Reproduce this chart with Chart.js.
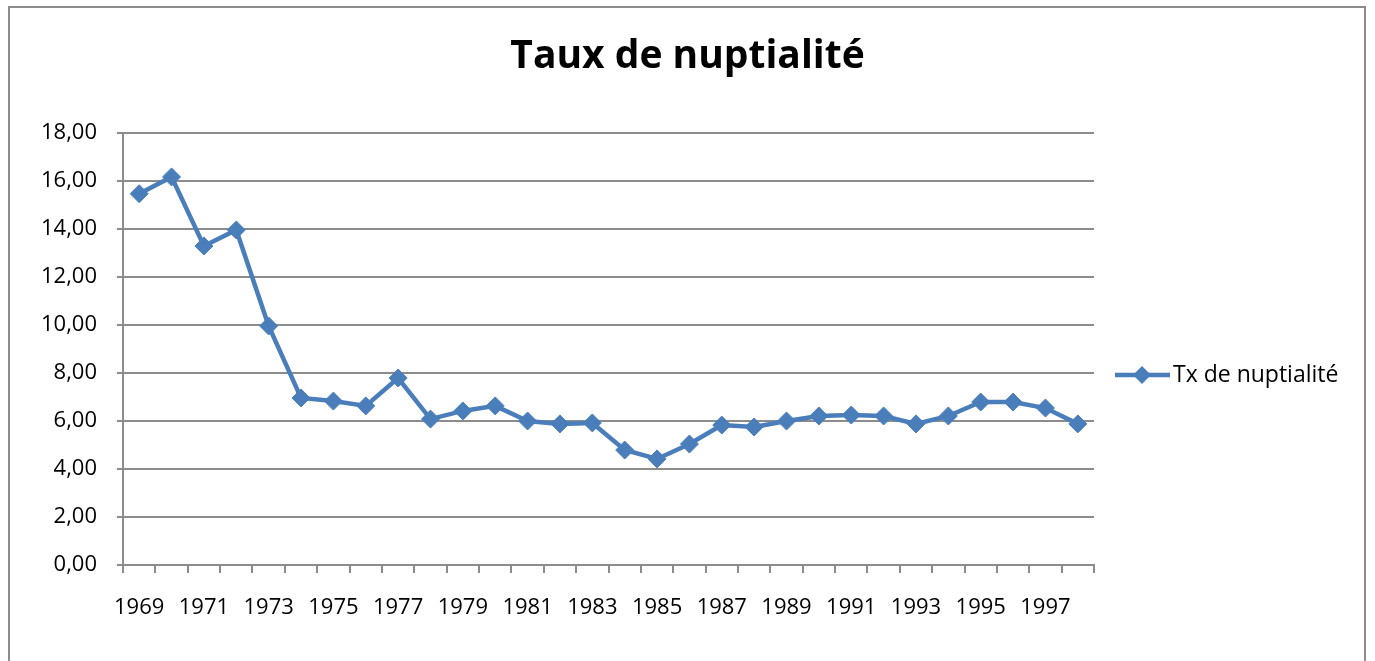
<!DOCTYPE html>
<html>
<head>
<meta charset="utf-8">
<script src="https://cdn.jsdelivr.net/npm/chart.js@4.4.0/dist/chart.umd.min.js"></script>
<style>
  html, body { margin: 0; padding: 0; background: #fff; }
  #wrap { position: relative; width: 1375px; height: 661px; overflow: hidden; }
  #frame { position: absolute; left: 8px; top: 6px; width: 1358px; height: 700px;
           border: 2px solid #8c8c8c; pointer-events: none; box-sizing: border-box; }
</style>
</head>
<body>
<div id="wrap">
  <canvas id="chart1" width="1375" height="661"></canvas>
  <div id="frame"></div>
</div>
<script>
// années
const annees = ['1969','1970','1971','1972','1973','1974','1975','1976','1977','1978',
                '1979','1980','1981','1982','1983','1984','1985','1986','1987','1988',
                '1989','1990','1991','1992','1993','1994','1995','1996','1997','1998'];
// taux de nuptialité
const txNuptialite = [15.47, 16.17, 13.29, 13.96, 9.96, 6.96, 6.83, 6.63, 7.79, 6.08,
                      6.42, 6.63, 6.00, 5.88, 5.92, 4.79, 4.42, 5.04, 5.83, 5.75,
                      6.00, 6.21, 6.25, 6.21, 5.88, 6.21, 6.79, 6.79, 6.54, 5.88];
const yTicks = [0, 2, 4, 6, 8, 10, 12, 14, 16, 18];

const bleu = '#4a7ebb';
const gris = '#8c8c8c';
const police = '"Open Sans"';

// legende dessinee a la main (trait + losange)
const legendeExcel = {
    id: 'legendeExcel',
    afterDraw(chart) {
        const ctx = chart.ctx;
        const ds = chart.data.datasets[0];
        const y = 375;
        ctx.save();
        ctx.strokeStyle = ds.borderColor;
        ctx.lineWidth = ds.borderWidth;
        ctx.beginPath();
        ctx.moveTo(1115, y);
        ctx.lineTo(1170, y);
        ctx.stroke();
        ctx.fillStyle = ds.backgroundColor;
        ctx.beginPath();
        ctx.moveTo(1142 - 9, y);
        ctx.lineTo(1142, y - 9);
        ctx.lineTo(1142 + 9, y);
        ctx.lineTo(1142, y + 9);
        ctx.closePath();
        ctx.fill();
        ctx.fillStyle = '#000';
        ctx.font = '23px ' + police;
        ctx.textBaseline = 'middle';
        ctx.fillText(ds.label, 1173, y);
        ctx.restore();
    }
};

const ctx1 = document.getElementById('chart1').getContext('2d');
const myChart1 = new Chart(ctx1, {
    type: 'line',
    data: {
        labels: annees,
        datasets: [{
            label: 'Tx de nuptialité',
            data: txNuptialite,
            borderColor: bleu,
            backgroundColor: bleu,
            borderWidth: 4.5,
            pointStyle: 'rectRot',
            pointRadius: 9,
            pointBorderWidth: 1,
            tension: 0
        }]
    },
    options: {
        responsive: false,
        animation: false,
        layout: { padding: 0 },
        plugins: {
            legend: { display: false },
            tooltip: { enabled: false },
            title: {
                display: true,
                text: 'Taux de nuptialité',
                color: '#000',
                font: { family: police, size: 39, weight: 'bold' },
                padding: { top: 33, bottom: 53.2 }
            }
        },
        scales: {
            x: {
                type: 'category',
                offset: true,
                afterFit(s) { s.height = 96; },
                grid: { display: true, drawOnChartArea: false, drawTicks: true, tickLength: 8,
                        offset: true, color: gris, lineWidth: 2 },
                border: { display: true, color: gris, width: 2 },
                ticks: {
                    autoSkip: false,
                    maxRotation: 0,
                    padding: 22,
                    color: '#000',
                    font: { family: police, size: 22 },
                    callback: function(v, i) { return i % 2 === 0 ? this.getLabelForValue(v) : ''; }
                }
            },
            y: {
                min: 0,
                max: 18,
                afterFit(s) { s.width = 123; },
                afterBuildTicks(s) { s.ticks = yTicks.map(v => ({ value: v })); },
                grid: { color: gris, lineWidth: 2, tickLength: 6 },
                border: { display: true, color: gris, width: 2 },
                ticks: {
                    padding: 20,
                    color: '#000',
                    font: { family: police, size: 22 },
                    callback: v => v.toFixed(2).replace('.', ',')
                }
            },
            // place reservee a droite pour la legende
            legendeEspace: {
                type: 'linear',
                position: 'right',
                afterFit(s) { s.width = 281; },
                grid: { display: false },
                border: { display: false },
                ticks: { display: false }
            }
        }
    },
    plugins: [legendeExcel]
});
</script>
</body>
</html>
